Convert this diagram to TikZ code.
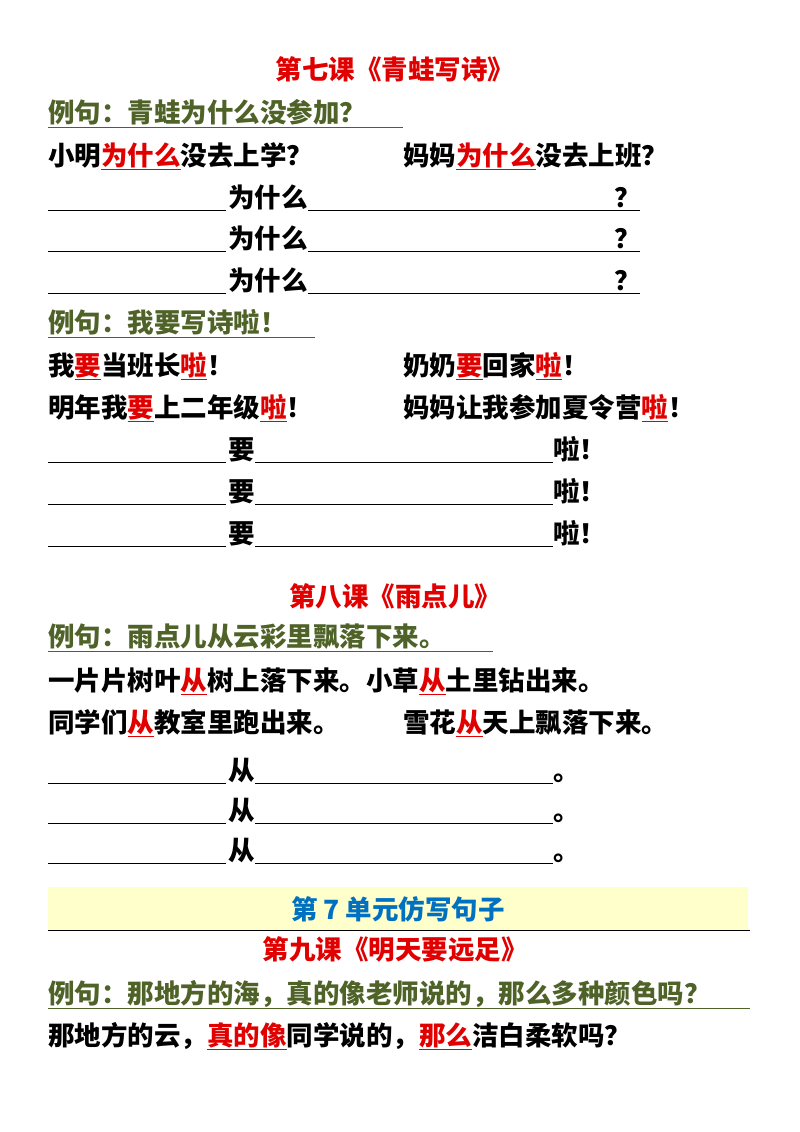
\documentclass[tikz,border=0pt]{standalone}
\usepackage{fontspec}
\newfontfamily\cjk{Noto Sans CJK SC}
\definecolor{exgreen}{HTML}{4F6228}
\definecolor{tred}{HTML}{E00000}
\definecolor{tblue}{HTML}{0070C0}
\definecolor{band}{HTML}{FFFFCC}
\newcommand{\rw}[1]{\textcolor{tred}{\underline{#1}}}
\newcommand{\fq}[1]{\makebox[0.9em][l]{#1}}
\begin{document}
\begin{tikzpicture}[x=1pt,y=-1pt,
  every node/.style={inner sep=0pt,font=\cjk\bfseries\fontsize{26.5}{30}\selectfont},
  txt/.style={anchor=base west},
  ttl/.style={anchor=base,text=tred},
  ex/.style={anchor=base west,text=exgreen},
  blank/.style={line width=0.8pt},
  exline/.style={line width=0.9pt,exgreen}]
\useasboundingbox (0,0) rectangle (800,1132);
% lesson 7
\node[ttl] (t7) at (395,80) {第七课《青蛙写诗》};
\node[ex] (e71) at (48,122) {例句：青蛙为什么没参加\fq{？}};
\draw[exline] (e71.base west) ++(0,5) -- (403,127);
\node[txt] (s1) at (48,165) {小明\rw{为什么}没去上学\fq{？}};
\node[txt] (s2) at (403,165) {妈妈\rw{为什么}没去上班\fq{？}};
\foreach \y [count=\i] in {207,248,290}{
  \draw[blank] (48,\y+3) -- (226,\y+3);
  \node[txt] (w\i) at (228,\y) {为什么};
  \draw[blank] (w\i.base east) ++(0,3) -- (640,\y+3);
  \node[txt] (q\i) at (614,\y) {\fq{？}};
}
\node[ex] (e72) at (48,332) {例句：我要写诗啦\fq{！}};
\draw[exline] (e72.base west) ++(0,5) -- (315,337);
\node[txt] (s3) at (48,375) {我\rw{要}当班长\rw{啦}\fq{！}};
\node[txt] (s4) at (403,375) {奶奶\rw{要}回家\rw{啦}\fq{！}};
\node[txt] (s5) at (48,417) {明年我\rw{要}上二年级\rw{啦}\fq{！}};
\node[txt] (s6) at (403,417) {妈妈让我参加夏令营\rw{啦}\fq{！}};
\foreach \y [count=\i] in {459,501,543}{
  \draw[blank] (48,\y+3) -- (226,\y+3);
  \node[txt] (y\i) at (228,\y) {要};
  \draw[blank] (y\i.base east) ++(0,3) -- (553,\y+3);
  \node[txt] (l\i) at (553,\y) {啦\fq{！}};
}
% lesson 8
\node[ttl] (t8) at (395,606) {第八课《雨点儿》};
\node[ex] (e8) at (48,646) {例句：雨点儿从云彩里飘落下来。};
\draw[exline] (e8.base west) ++(0,5) -- (493,651);
\node[txt] (s7) at (48,690) {一片片树叶\rw{从}树上落下来。小草\rw{从}土里钻出来。};
\node[txt] (s8) at (48,732) {同学们\rw{从}教室里跑出来。};
\node[txt] (s9) at (403,732) {雪花\rw{从}天上飘落下来。};
\foreach \y [count=\i] in {780,820,860}{
  \draw[blank] (48,\y+3) -- (226,\y+3);
  \node[txt] (c\i) at (228,\y) {从};
  \draw[blank] (c\i.base east) ++(0,3) -- (553,\y+3);
  \node[txt] (p\i) at (553,\y) {。};
}
% unit band
\fill[band] (48,887) rectangle (748,930);
\draw[line width=0.8pt] (48,930) -- (750,930);
\node[anchor=base,text=tblue] (u7) at (398,919) {第 7 单元仿写句子};
% lesson 9
\node[ttl] (t9) at (395,959) {第九课《明天要远足》};
\node[ex] (e9) at (48,1003) {例句：那地方的海，真的像老师说的，那么多种颜色吗\fq{？}};
\draw[exline] (e9.base west) ++(0,5) -- (750,1008);
\node[txt] (s10) at (48,1045) {那地方的云，\rw{真的像}同学说的，\rw{那么}洁白柔软吗\fq{？}};
\end{tikzpicture}
\end{document}
